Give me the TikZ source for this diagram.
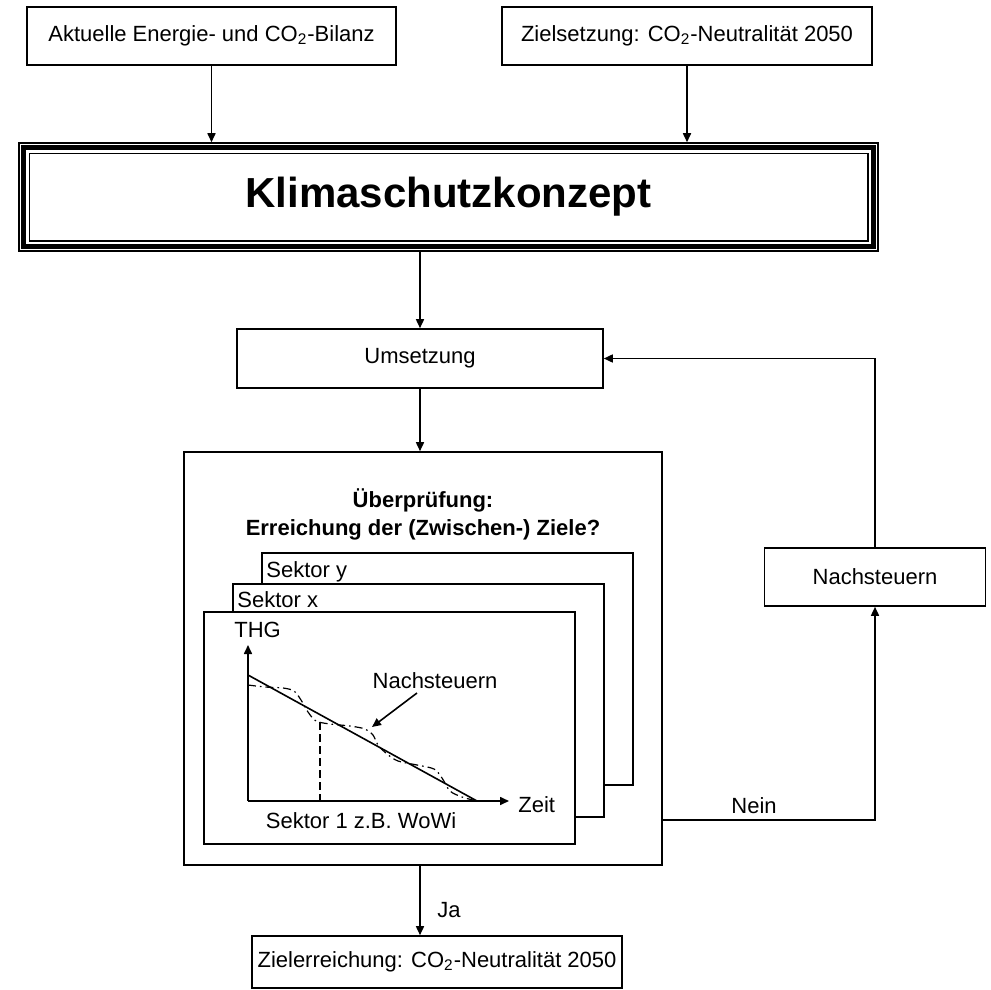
\documentclass[tikz,border=0pt]{standalone}
\usepackage{fontspec}
\setmainfont{Liberation Sans}
\usetikzlibrary{calc,arrows.meta}
\begin{document}
\begin{tikzpicture}[x=0.5pt,y=-0.5pt,
  every node/.style={font=\fontsize{11}{14}\selectfont},
  box/.style={draw,line width=0.8pt,inner sep=0pt,align=center},
  conn/.style={line width=0.8pt,-{Triangle[length=4.5pt,width=4pt]}},
  plain/.style={line width=0.8pt},
  lbl/.style={inner sep=0pt}]
\useasboundingbox (0,0) rectangle (990,990);
% top boxes
\node[box,minimum width=184.5pt,minimum height=29pt] (bil) at (211.5,36) {Aktuelle Energie- und CO\textsubscript{2}-Bilanz};
\node[box,minimum width=185pt,minimum height=29pt] (zs) at (687,36) {Zielsetzung: CO\textsubscript{2}-Neutralität 2050};
% Klimaschutzkonzept
\node[draw,line width=0.75pt,inner sep=0pt,minimum width=429.5pt,minimum height=54pt,
  font=\fontsize{21}{25}\selectfont\bfseries] (klim) at (448.5,197) {Klimaschutzkonzept};
\draw[line width=2.3pt] ($(klim.north west)+(5,5)$) rectangle ($(klim.south east)+(-5,-5)$);
\draw[line width=0.75pt] ($(klim.north west)+(11,11)$) rectangle ($(klim.south east)+(-11,-11)$);
\draw[conn] (bil.south) -- (bil.south |- klim.north);
\draw[conn] (zs.south) -- (zs.south |- klim.north);
% Umsetzung
\node[box,minimum width=183pt,minimum height=29.5pt] (ums) at (420,358.5) {Umsetzung};
\draw[conn] (klim.south -| ums.north) -- (ums.north);
% big box
\node[box,minimum width=239pt,minimum height=206.5pt] (big) at (423,658.5) {};
\draw[conn] (ums.south) -- (ums.south |- big.north);
\node[lbl,anchor=base,align=center,font=\fontsize{11}{14}\selectfont\bfseries] (ttl) at (423,535) {Überprüfung:\\Erreichung der (Zwischen-) Ziele?};
% sector boxes
\node[box,fill=white,minimum width=185.5pt,minimum height=116pt] (sy) at (447.5,669) {};
\node[lbl,anchor=base west] (sytxt) at (266,577) {Sektor y};
\node[box,fill=white,minimum width=185.5pt,minimum height=116.5pt] (sx) at (418.5,700.5) {};
\node[lbl,anchor=base west] (sxtxt) at (237,607) {Sektor x};
\node[box,fill=white,minimum width=185.5pt,minimum height=116pt] (s1) at (389.5,728) {};
\node[lbl,anchor=base west] (thg) at (234,637) {THG};
% graph
\coordinate (org) at (248,801);
\coordinate (ytip) at (248,645);
\coordinate (xtip) at (509,801);
\draw[conn] (org) -- (ytip);
\draw[conn] (org) -- (xtip);
\node[lbl,anchor=base west] (zeit) at (518,812) {Zeit};
\coordinate (ls) at (248,675);
\coordinate (le) at (477,801);
\draw[plain] (ls) -- (le);
\coordinate (dv) at (320,722);
\draw[line width=0.7pt,dash pattern=on 4pt off 2pt] (dv) -- (dv |- org);
\draw[line width=0.6pt,dash pattern=on 4pt off 2pt on 0.8pt off 2pt] plot[smooth,tension=0.5] coordinates {
 (248,685) (265,687) (283,688) (294,691) (301,700) (308,712) (316,721) (330,724) (350,726) (365,729) (373,735) (378,745) (387,754) (398,761) (417,765) (434,769) (442,778) (450,791) (462,797) (477,801)};
\node[lbl,anchor=base] (ngl) at (435,688) {Nachsteuern};
\coordinate (na1) at (417,693);
\coordinate (na2) at (372,727);
\draw[conn] (na1) -- (na2);
\node[lbl,anchor=base] (s1txt) at (361,828) {Sektor 1 z.B. WoWi};
% Ziel
\node[box,minimum width=185pt,minimum height=26pt] (zr) at (437,962) {Zielerreichung: CO\textsubscript{2}-Neutralität 2050};
\draw[conn] (ums.south |- big.south) -- (ums.south |- zr.north);
\node[lbl,anchor=base west] (ja) at (437,917) {Ja};
% feedback
\node[box,minimum width=110.5pt,minimum height=29pt] (nach) at (875,577) {Nachsteuern};
\coordinate (nein) at (662,820);
\draw[conn] (nein) -| (nach.south);
\node[lbl,anchor=base] (neintxt) at (754,813) {Nein};
\draw[conn] (nach.north) |- (ums.east);
\end{tikzpicture}
\end{document}
